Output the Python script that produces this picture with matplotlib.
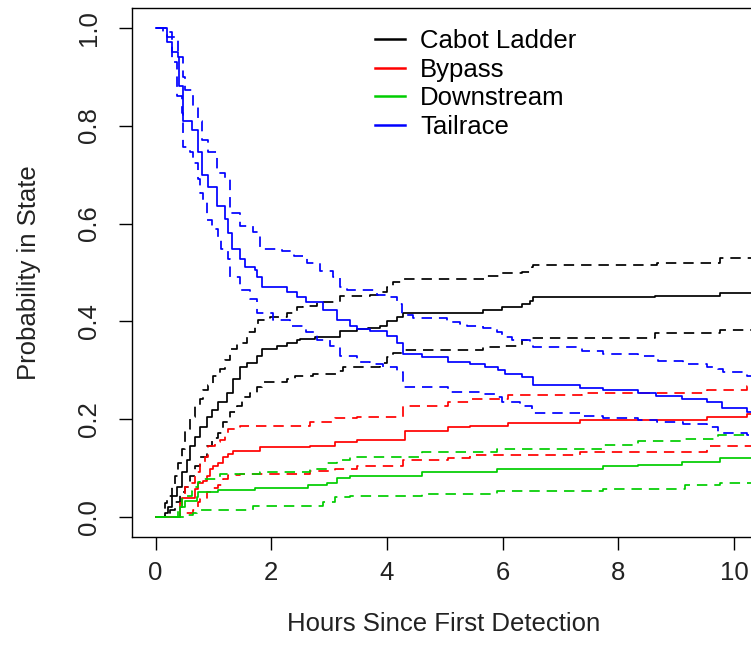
import matplotlib
matplotlib.use("Agg")
from matplotlib import pyplot as plt

plt.rcParams['font.family'] = ['Liberation Sans', 'DejaVu Sans']

states = ['Cabot Ladder', 'Bypass', 'Downstream', 'Tailrace']
colors = ['black', '#ff0000', '#00cd00', '#0000ff']
end_time = 10.6

# Cabot Ladder
ladder_t = [0, 0.16, 0.22, 0.28, 0.37, 0.45, 0.54, 0.60, 0.68, 0.77, 0.89, 0.97, 1.08, 1.23, 1.34,
            1.46, 1.58, 1.75, 1.84, 2.1, 2.27, 2.44, 2.5, 2.76, 3.19, 3.48, 3.67, 3.88, 4.0, 4.17,
            4.28, 5.66, 5.99, 6.33, 6.47, 6.53, 8.63, 9.76]
ladder_p = [0, 0.01, 0.022, 0.043, 0.063, 0.092, 0.118, 0.145, 0.165, 0.184, 0.206, 0.22, 0.235,
            0.255, 0.282, 0.308, 0.316, 0.329, 0.343, 0.349, 0.357, 0.363, 0.365, 0.369, 0.38,
            0.384, 0.386, 0.39, 0.40, 0.41, 0.418, 0.424, 0.429, 0.435, 0.441, 0.449, 0.451, 0.459]
ladder_up_t = [0, 0.16, 0.19, 0.28, 0.34, 0.39, 0.45, 0.51, 0.60, 0.68, 0.77, 0.82, 0.91, 0.99,
               1.11, 1.20, 1.29, 1.40, 1.58, 1.72, 1.77, 1.98, 2.27, 2.44, 2.55, 2.79, 3.19, 3.71,
               3.88, 4.0, 4.1, 4.28, 5.7, 5.99, 6.33, 6.5, 6.53, 8.67, 9.76]
ladder_up_p = [0, 0.03, 0.043, 0.063, 0.084, 0.112, 0.139, 0.18, 0.206, 0.227, 0.241, 0.261,
               0.271, 0.288, 0.302, 0.322, 0.343, 0.357, 0.378, 0.39, 0.404, 0.41, 0.418, 0.429,
               0.431, 0.439, 0.451, 0.455, 0.461, 0.471, 0.48, 0.486, 0.492, 0.498, 0.502, 0.512,
               0.516, 0.52, 0.529]
ladder_lo_t = [0, 0.19, 0.25, 0.34, 0.42, 0.51, 0.60, 0.68, 0.77, 0.89, 0.97, 1.08, 1.17, 1.29,
               1.40, 1.49, 1.63, 1.75, 1.84, 2.27, 2.41, 2.72, 3.13, 3.24, 3.88, 4.0, 4.1, 4.28,
               5.66, 5.99, 6.33, 6.47, 8.63, 9.76]
ladder_lo_p = [0, 0.006, 0.016, 0.031, 0.051, 0.063, 0.084, 0.104, 0.124, 0.145, 0.163, 0.173,
               0.194, 0.216, 0.227, 0.245, 0.255, 0.267, 0.276, 0.282, 0.288, 0.292, 0.298, 0.308,
               0.316, 0.327, 0.335, 0.341, 0.347, 0.349, 0.363, 0.367, 0.376, 0.382]

# Bypass
bypass_t = [0, 0.42, 0.45, 0.68, 0.73, 0.82, 0.89, 0.94, 0.99, 1.08, 1.17, 1.25, 1.34, 1.81, 2.67,
            3.1, 3.48, 4.31, 5.06, 5.44, 6.09, 7.34, 9.53, 10.22]
bypass_p = [0, 0.03, 0.04, 0.057, 0.071, 0.074, 0.084, 0.098, 0.104, 0.112, 0.124, 0.129, 0.135,
            0.143, 0.145, 0.153, 0.159, 0.176, 0.184, 0.186, 0.192, 0.198, 0.204, 0.212]
bypass_up_t = [0, 0.42, 0.45, 0.51, 0.60, 0.68, 0.77, 0.86, 0.91, 1.03, 1.11, 1.20, 1.25, 1.37,
               1.46, 2.67, 3.1, 3.48, 4.28, 5.06, 5.44, 6.09, 7.37, 9.53, 10.22]
bypass_up_p = [0, 0.022, 0.043, 0.063, 0.071, 0.092, 0.112, 0.124, 0.145, 0.153, 0.159, 0.173,
               0.18, 0.184, 0.186, 0.194, 0.202, 0.206, 0.227, 0.235, 0.241, 0.249, 0.255, 0.261,
               0.269]
bypass_lo_t = [0, 0.42, 0.65, 0.73, 0.77, 0.89, 0.97, 1.08, 1.17, 1.25, 1.46, 2.67, 3.1, 3.48,
               4.28, 5.06, 5.44, 7.34, 9.53]
bypass_lo_p = [0, 0.01, 0.016, 0.031, 0.037, 0.051, 0.061, 0.067, 0.078, 0.086, 0.088, 0.094,
               0.098, 0.104, 0.118, 0.122, 0.127, 0.133, 0.145]

# Downstream
down_t = [0, 0.42, 0.51, 0.71, 0.73, 1.08, 1.72, 2.64, 2.96, 3.13, 3.36, 4.6, 5.9, 7.73, 8.34,
          9.1, 9.76]
down_p = [0, 0.022, 0.033, 0.041, 0.051, 0.055, 0.061, 0.067, 0.071, 0.08, 0.084, 0.092, 0.098,
          0.104, 0.108, 0.114, 0.122]
down_up_t = [0, 0.39, 0.45, 0.54, 0.63, 0.65, 0.73, 0.77, 1.11, 1.81, 2.67, 2.96, 3.13, 3.36,
             4.6, 5.9, 7.73, 8.34, 9.1, 9.72]
down_up_p = [0, 0.022, 0.037, 0.043, 0.053, 0.063, 0.073, 0.078, 0.088, 0.092, 0.098, 0.112,
             0.118, 0.124, 0.133, 0.139, 0.147, 0.155, 0.161, 0.169]
down_lo_t = [0, 0.51, 0.65, 0.71, 1.69, 2.9, 3.1, 3.36, 4.6, 5.9, 7.73, 9.15, 9.76]
down_lo_p = [0, 0.004, 0.01, 0.016, 0.023, 0.031, 0.041, 0.043, 0.047, 0.053, 0.059, 0.067,
             0.071]

# Tailrace
tail_t = [0, 0.19, 0.28, 0.39, 0.41, 0.475, 0.63, 0.73, 0.80, 0.91, 1.06, 1.20, 1.25, 1.32, 1.46,
          1.55, 1.72, 1.75, 1.84, 2.27, 2.44, 2.61, 2.9, 3.13, 3.36, 3.48, 3.71, 4.0, 4.17, 4.28,
          4.6, 5.06, 5.44, 5.69, 5.92, 6.04, 6.33, 6.53, 7.34, 7.73, 8.34, 8.66, 9.1, 9.53, 9.79,
          10.22]
tail_p = [1.0, 0.97, 0.95, 0.94, 0.88, 0.81, 0.79, 0.745, 0.70, 0.675, 0.635, 0.61, 0.58, 0.547,
          0.527, 0.512, 0.506, 0.49, 0.47, 0.46, 0.45, 0.44, 0.424, 0.404, 0.39, 0.384, 0.38,
          0.37, 0.357, 0.333, 0.327, 0.318, 0.314, 0.308, 0.30, 0.292, 0.286, 0.271, 0.265,
          0.261, 0.255, 0.247, 0.241, 0.235, 0.224, 0.216]
tail_up_t = [0, 0.19, 0.39, 0.475, 0.51, 0.65, 0.73, 0.80, 0.91, 1.06, 1.20, 1.29, 1.46, 1.69,
             1.81, 2.19, 2.39, 2.62, 2.84, 3.07, 3.19, 3.31, 3.83, 4.05, 4.17, 4.26, 4.45, 5.04,
             5.26, 5.38, 5.66, 5.9, 5.99, 6.16, 6.47, 6.53, 7.37, 7.74, 8.34, 8.69, 9.12, 9.53,
             9.72, 9.81, 10.23]
tail_up_p = [1.0, 0.98, 0.94, 0.90, 0.873, 0.84, 0.81, 0.77, 0.745, 0.704, 0.69, 0.622, 0.594,
             0.582, 0.547, 0.543, 0.533, 0.52, 0.504, 0.49, 0.471, 0.465, 0.455, 0.449, 0.435,
             0.414, 0.408, 0.398, 0.394, 0.39, 0.386, 0.378, 0.369, 0.363, 0.357, 0.347, 0.339,
             0.333, 0.329, 0.32, 0.314, 0.308, 0.304, 0.296, 0.288]
tail_lo_t = [0, 0.13, 0.28, 0.37, 0.45, 0.475, 0.6, 0.65, 0.73, 0.77, 0.82, 0.89, 0.97, 1.08,
             1.14, 1.25, 1.29, 1.46, 1.63, 1.75, 2.03, 2.32, 2.61, 2.79, 3.02, 3.19, 3.48, 3.71,
             3.93, 4.17, 4.28, 5.06, 5.66, 5.9, 5.99, 6.30, 6.5, 7.37, 7.74, 8.34, 8.67, 9.12,
             9.53, 9.72, 10.23]
tail_lo_p = [1.0, 0.99, 0.93, 0.86, 0.826, 0.757, 0.745, 0.724, 0.69, 0.663, 0.643, 0.608,
             0.588, 0.567, 0.547, 0.527, 0.49, 0.465, 0.445, 0.418, 0.404, 0.39, 0.378, 0.363,
             0.349, 0.329, 0.318, 0.314, 0.308, 0.296, 0.267, 0.257, 0.251, 0.245, 0.235, 0.227,
             0.214, 0.208, 0.202, 0.198, 0.194, 0.19, 0.184, 0.173, 0.169]

curves = [
    (ladder_t, ladder_p, ladder_up_t, ladder_up_p, ladder_lo_t, ladder_lo_p),
    (bypass_t, bypass_p, bypass_up_t, bypass_up_p, bypass_lo_t, bypass_lo_p),
    (down_t, down_p, down_up_t, down_up_p, down_lo_t, down_lo_p),
    (tail_t, tail_p, tail_up_t, tail_up_p, tail_lo_t, tail_lo_p),
]


def extend(t, p):
    return list(t) + [end_time], list(p) + [p[-1]]


fig = plt.figure(figsize=(7.51, 6.61), dpi=100)
ax = fig.add_axes([0.1758, 0.1876, 0.8293, 0.8003])

lw = 1.25
for name, col, (t, p, ut, up, lt, lp) in zip(states, colors, curves):
    for tt, pp in ((ut, up), (lt, lp)):
        x, y = extend(tt, pp)
        ax.plot(x, y, drawstyle='steps-post', color=col, lw=lw, linestyle=(0, (6, 4)))
    x, y = extend(t, p)
    ax.plot(x, y, drawstyle='steps-post', color=col, lw=lw, label=name)

ax.set_xlim(-0.406, 10.36)
ax.set_ylim(-0.04, 1.04)
ax.set_xticks([0, 2, 4, 6, 8, 10])
ax.set_yticks([0.0, 0.2, 0.4, 0.6, 0.8, 1.0])
ax.set_yticklabels(['0.0', '0.2', '0.4', '0.6', '0.8', '1.0'], rotation=90, va='center')
ax.tick_params(axis='both', direction='out', length=9.4, width=1.0, labelsize=18.5,
               color='black', labelcolor='#222222')
ax.tick_params(axis='x', pad=8)
ax.tick_params(axis='y', pad=13)
for s in ax.spines.values():
    s.set_linewidth(1.0)

ax.set_xlabel('Hours Since First Detection', fontsize=18.5, color='#222222', labelpad=19)
ax.set_ylabel('Probability in State', fontsize=18.5, color='#222222', labelpad=26)

leg = ax.legend(loc='upper left', bbox_to_anchor=(0.4993, 0.956), bbox_transform=fig.transFigure,
                frameon=False, fontsize=18.5, handlelength=1.17, handletextpad=0.58,
                labelspacing=0.175, borderpad=0, borderaxespad=0)
for h in leg.get_lines():
    h.set_linewidth(1.8)

fig.savefig('out.png', dpi=100)
